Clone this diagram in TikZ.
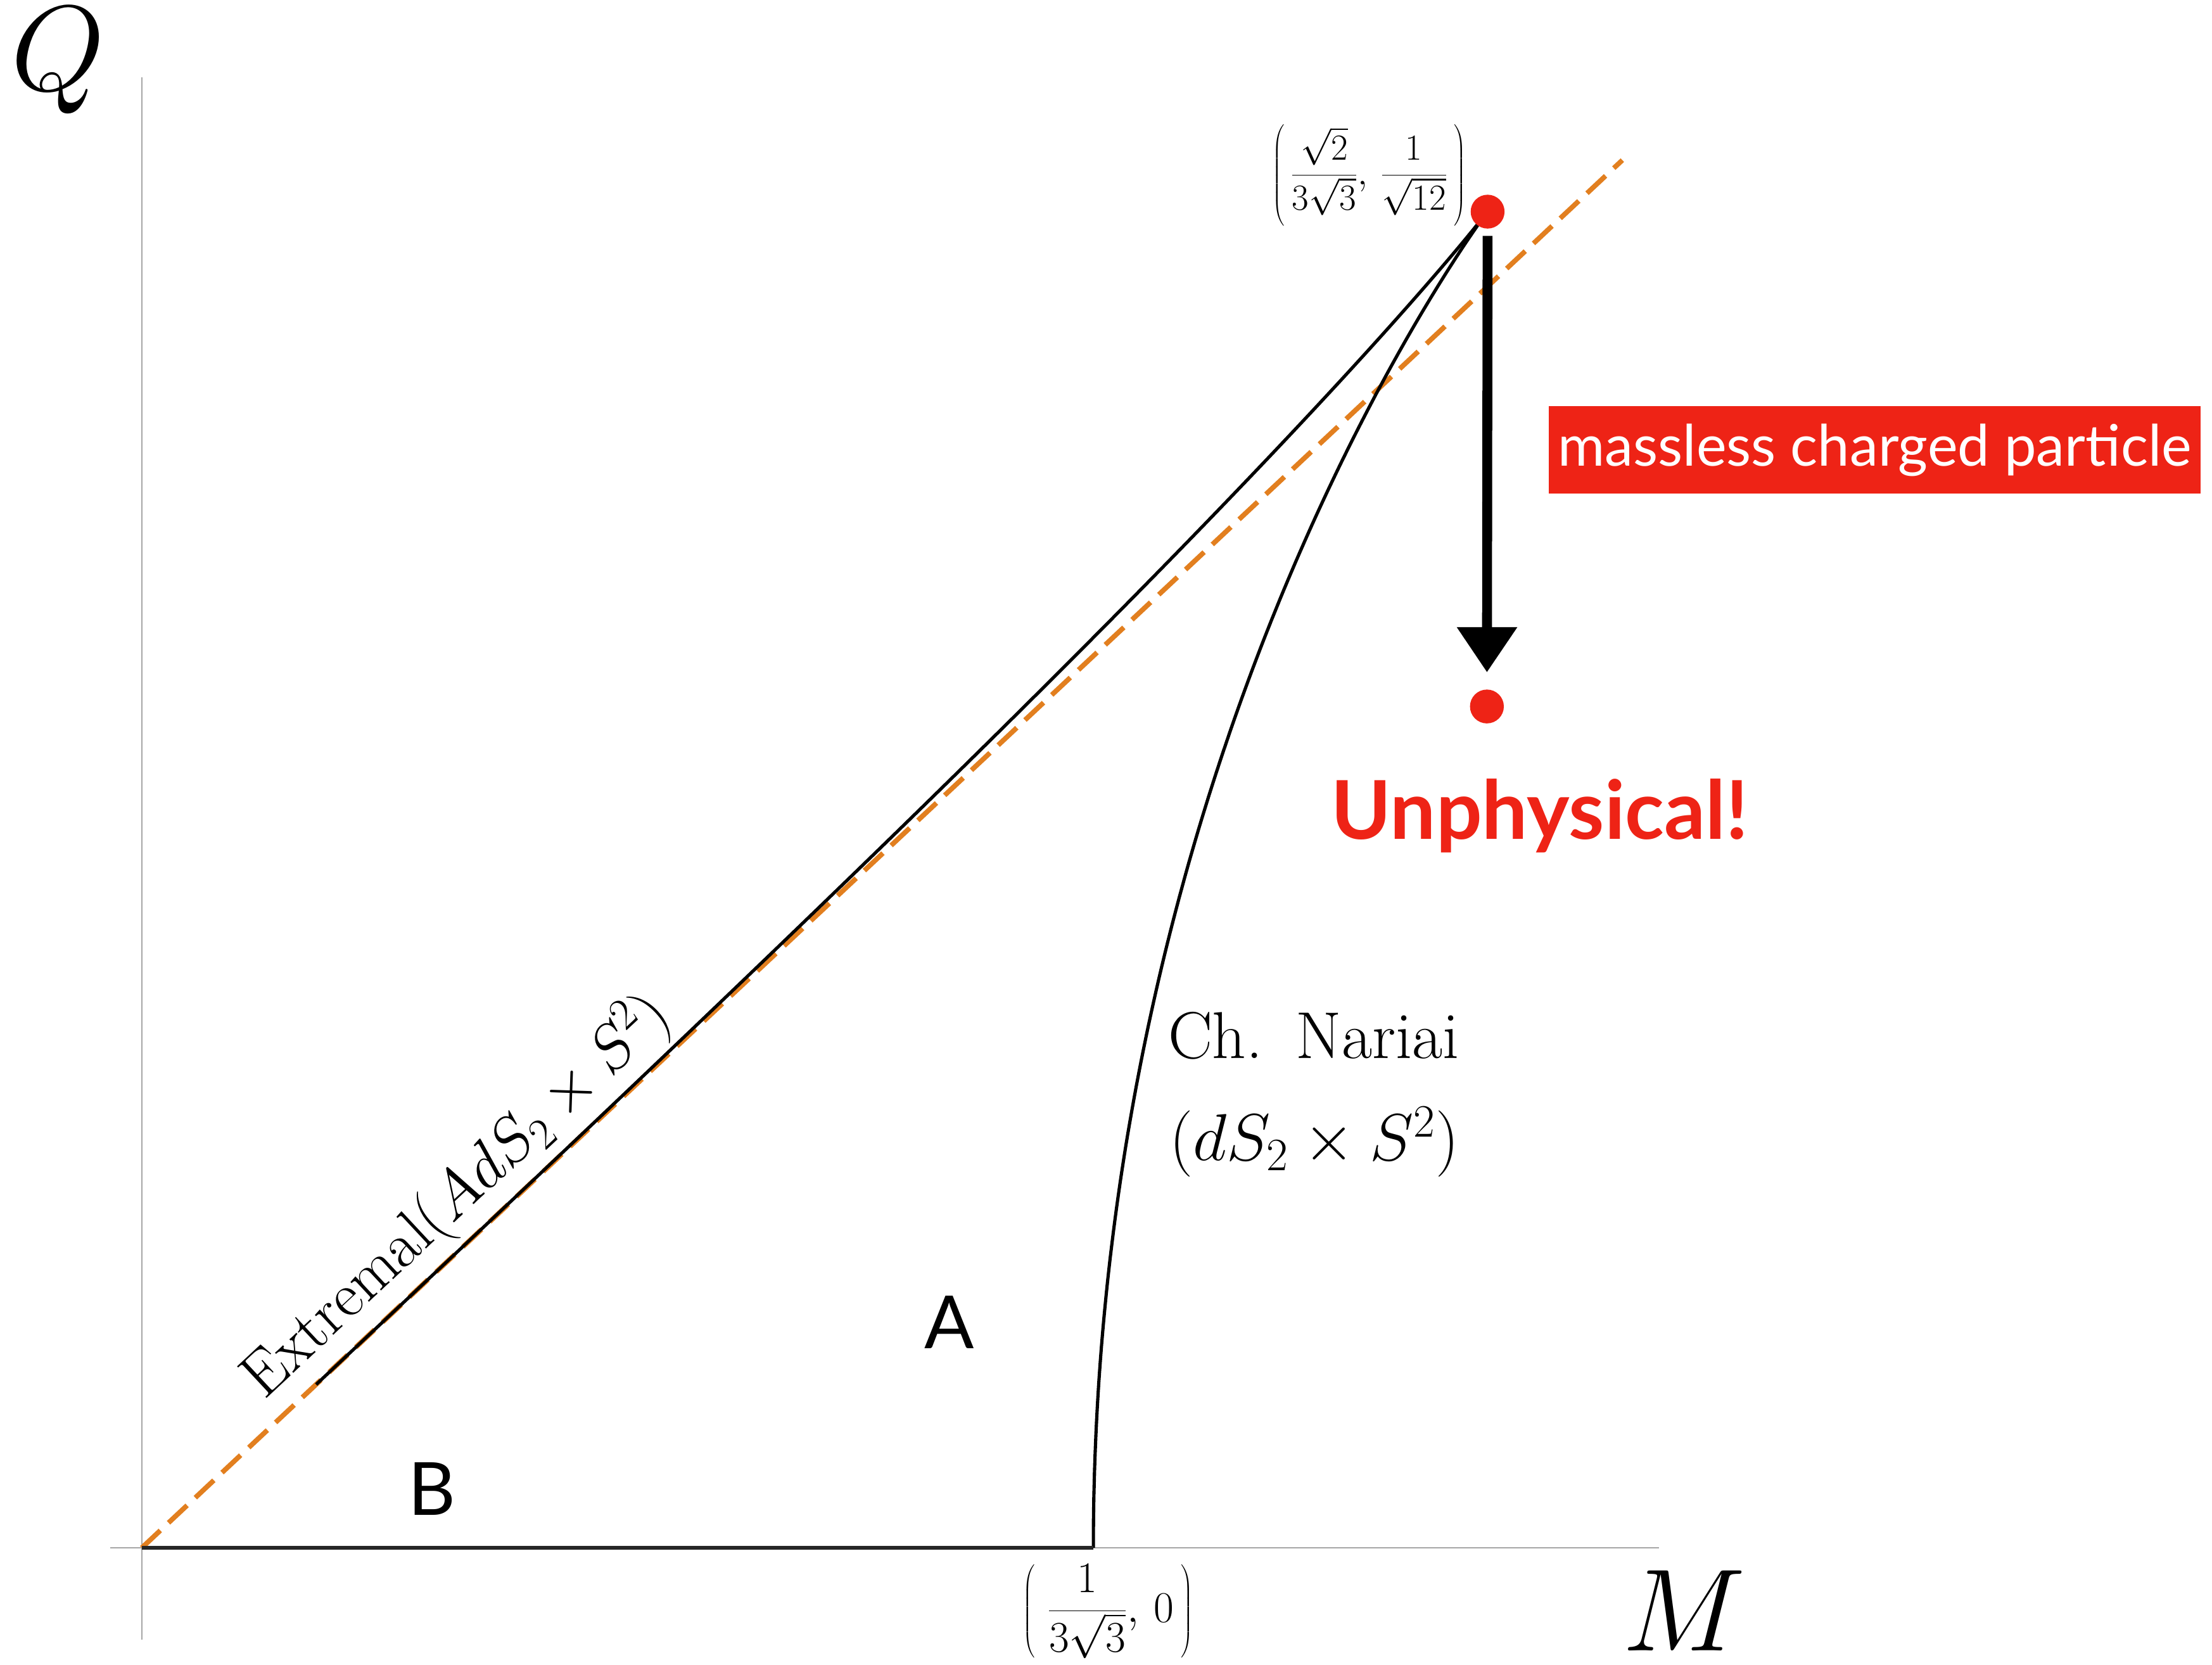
\RequirePackage{fix-cm}
\documentclass[tikz,border=0pt]{standalone}
\usepackage{fontspec}
\newfontfamily\lato{Lato}
\usetikzlibrary{arrows.meta,calc}
\definecolor{dotred}{HTML}{EE2316}
\definecolor{dashor}{HTML}{E27F1F}
\tikzset{
  axisline/.style={draw=black!35, line width=1pt},
  curveline/.style={draw=black, line width=2.3pt, line join=round},
  floorline/.style={draw=black!85, line width=3pt},
  dashref/.style={draw=dashor, line width=3.5pt, dash pattern=on 18pt off 8pt},
  reddot/.style={circle, fill=dotred, minimum size=24pt, inner sep=0pt},
  bigarrow/.style={draw=black, line width=7pt, -{Triangle[width=41pt,length=32pt]}},
  plain/.style={inner sep=0pt, outer sep=0pt},
}
\begin{document}
\begin{tikzpicture}[x=1pt,y=-1pt]
\useasboundingbox (0,0) rectangle (1568,1180);
% axes
\coordinate (O) at (100.5,1097);
\coordinate (xl) at (78,1097);
\coordinate (xr) at (1176,1097);
\coordinate (yt) at (100.5,55);
\coordinate (yb) at (100.5,1162);
\draw[axisline] (xl) -- (xr);
\draw[axisline] (yb) -- (yt);
% reference line Q=M
\coordinate (dashend) at (1150,113.5);
\draw[dashref] (O) -- (dashend);
% special points
\coordinate (UC) at (1054.5,150);
\coordinate (NB) at (775,1097);
% extremal branch
\draw[curveline] plot[domain=0.70711:1, samples=150, variable=\s]
  ({100.5+3505*sqrt(max(0,(1-\s*\s)/3))*(1+2*\s*\s)/3},
   {1097-3280.5*sqrt(max(0,(1-\s*\s)/3))*\s});
% Nariai branch
\draw[curveline] plot[domain=0:0.70711, samples=150, variable=\s]
  ({100.5+3505*sqrt(max(0,(1-\s*\s)/3))*(1+2*\s*\s)/3},
   {1097-3280.5*sqrt(max(0,(1-\s*\s)/3))*\s});
\draw[floorline] (O) -- (NB);
% dots and arrow
\node[reddot] (UCdot) at (UC) {};
\node[reddot] (Ldot) at (1054,500.7) {};
\draw[bigarrow, shorten <=5pt, shorten >=12pt] (UCdot) -- (Ldot);
% axis labels
\node[plain, anchor=base west] (Qlab) at (8,64) {\fontsize{86}{90}\selectfont $Q$};
\node[plain, anchor=base west] (Mlab) at (1150,1170) {\fontsize{83}{90}\selectfont $M$};
% point labels
\node[plain] (UClab) at (970.5,124.3) {\fontsize{26}{31}\selectfont $\displaystyle\left(\rule[-30pt]{0pt}{73pt}\,\frac{\sqrt{2}}{3\sqrt{3}},\,\frac{1}{\sqrt{12}}\,\right)$};
\node[plain] (NBlab) at (785.5,1142) {\fontsize{31}{37}\selectfont $\displaystyle\left(\;\frac{1}{3\sqrt{3}},\,0\,\right)$};
% curve labels
\node[plain, anchor=base west] (nar1) at (828,750) {\fontsize{47}{56}\selectfont Ch.\hspace{0.5em}Nariai};
\node[plain, anchor=base west] (nar2) at (829,822.6) {\fontsize{47}{56}\selectfont $(dS_2\times S^2)$};
\node[plain, anchor=base west, rotate=43] (extlab) at (187.3,992.4) {\fontsize{45}{54}\selectfont Extremal$(AdS_2\times S^2)$};
% region labels
\node[plain] (Alab) at (673,937) {\lato\fontsize{52}{60}\selectfont A};
\node[plain] (Blab) at (306,1055) {\lato\fontsize{52}{60}\selectfont B};
% annotations
\node[fill=dotred, text=white, minimum width=462pt, minimum height=62pt, inner sep=0pt] (mcp) at (1329,319) {\lato\fontsize{40.5}{48}\selectfont massless charged particle};
\node[plain, text=dotred] (unph) at (1091.5,578) {\lato\bfseries\fontsize{57.5}{66}\selectfont Unphysical!};
\end{tikzpicture}
\end{document}
